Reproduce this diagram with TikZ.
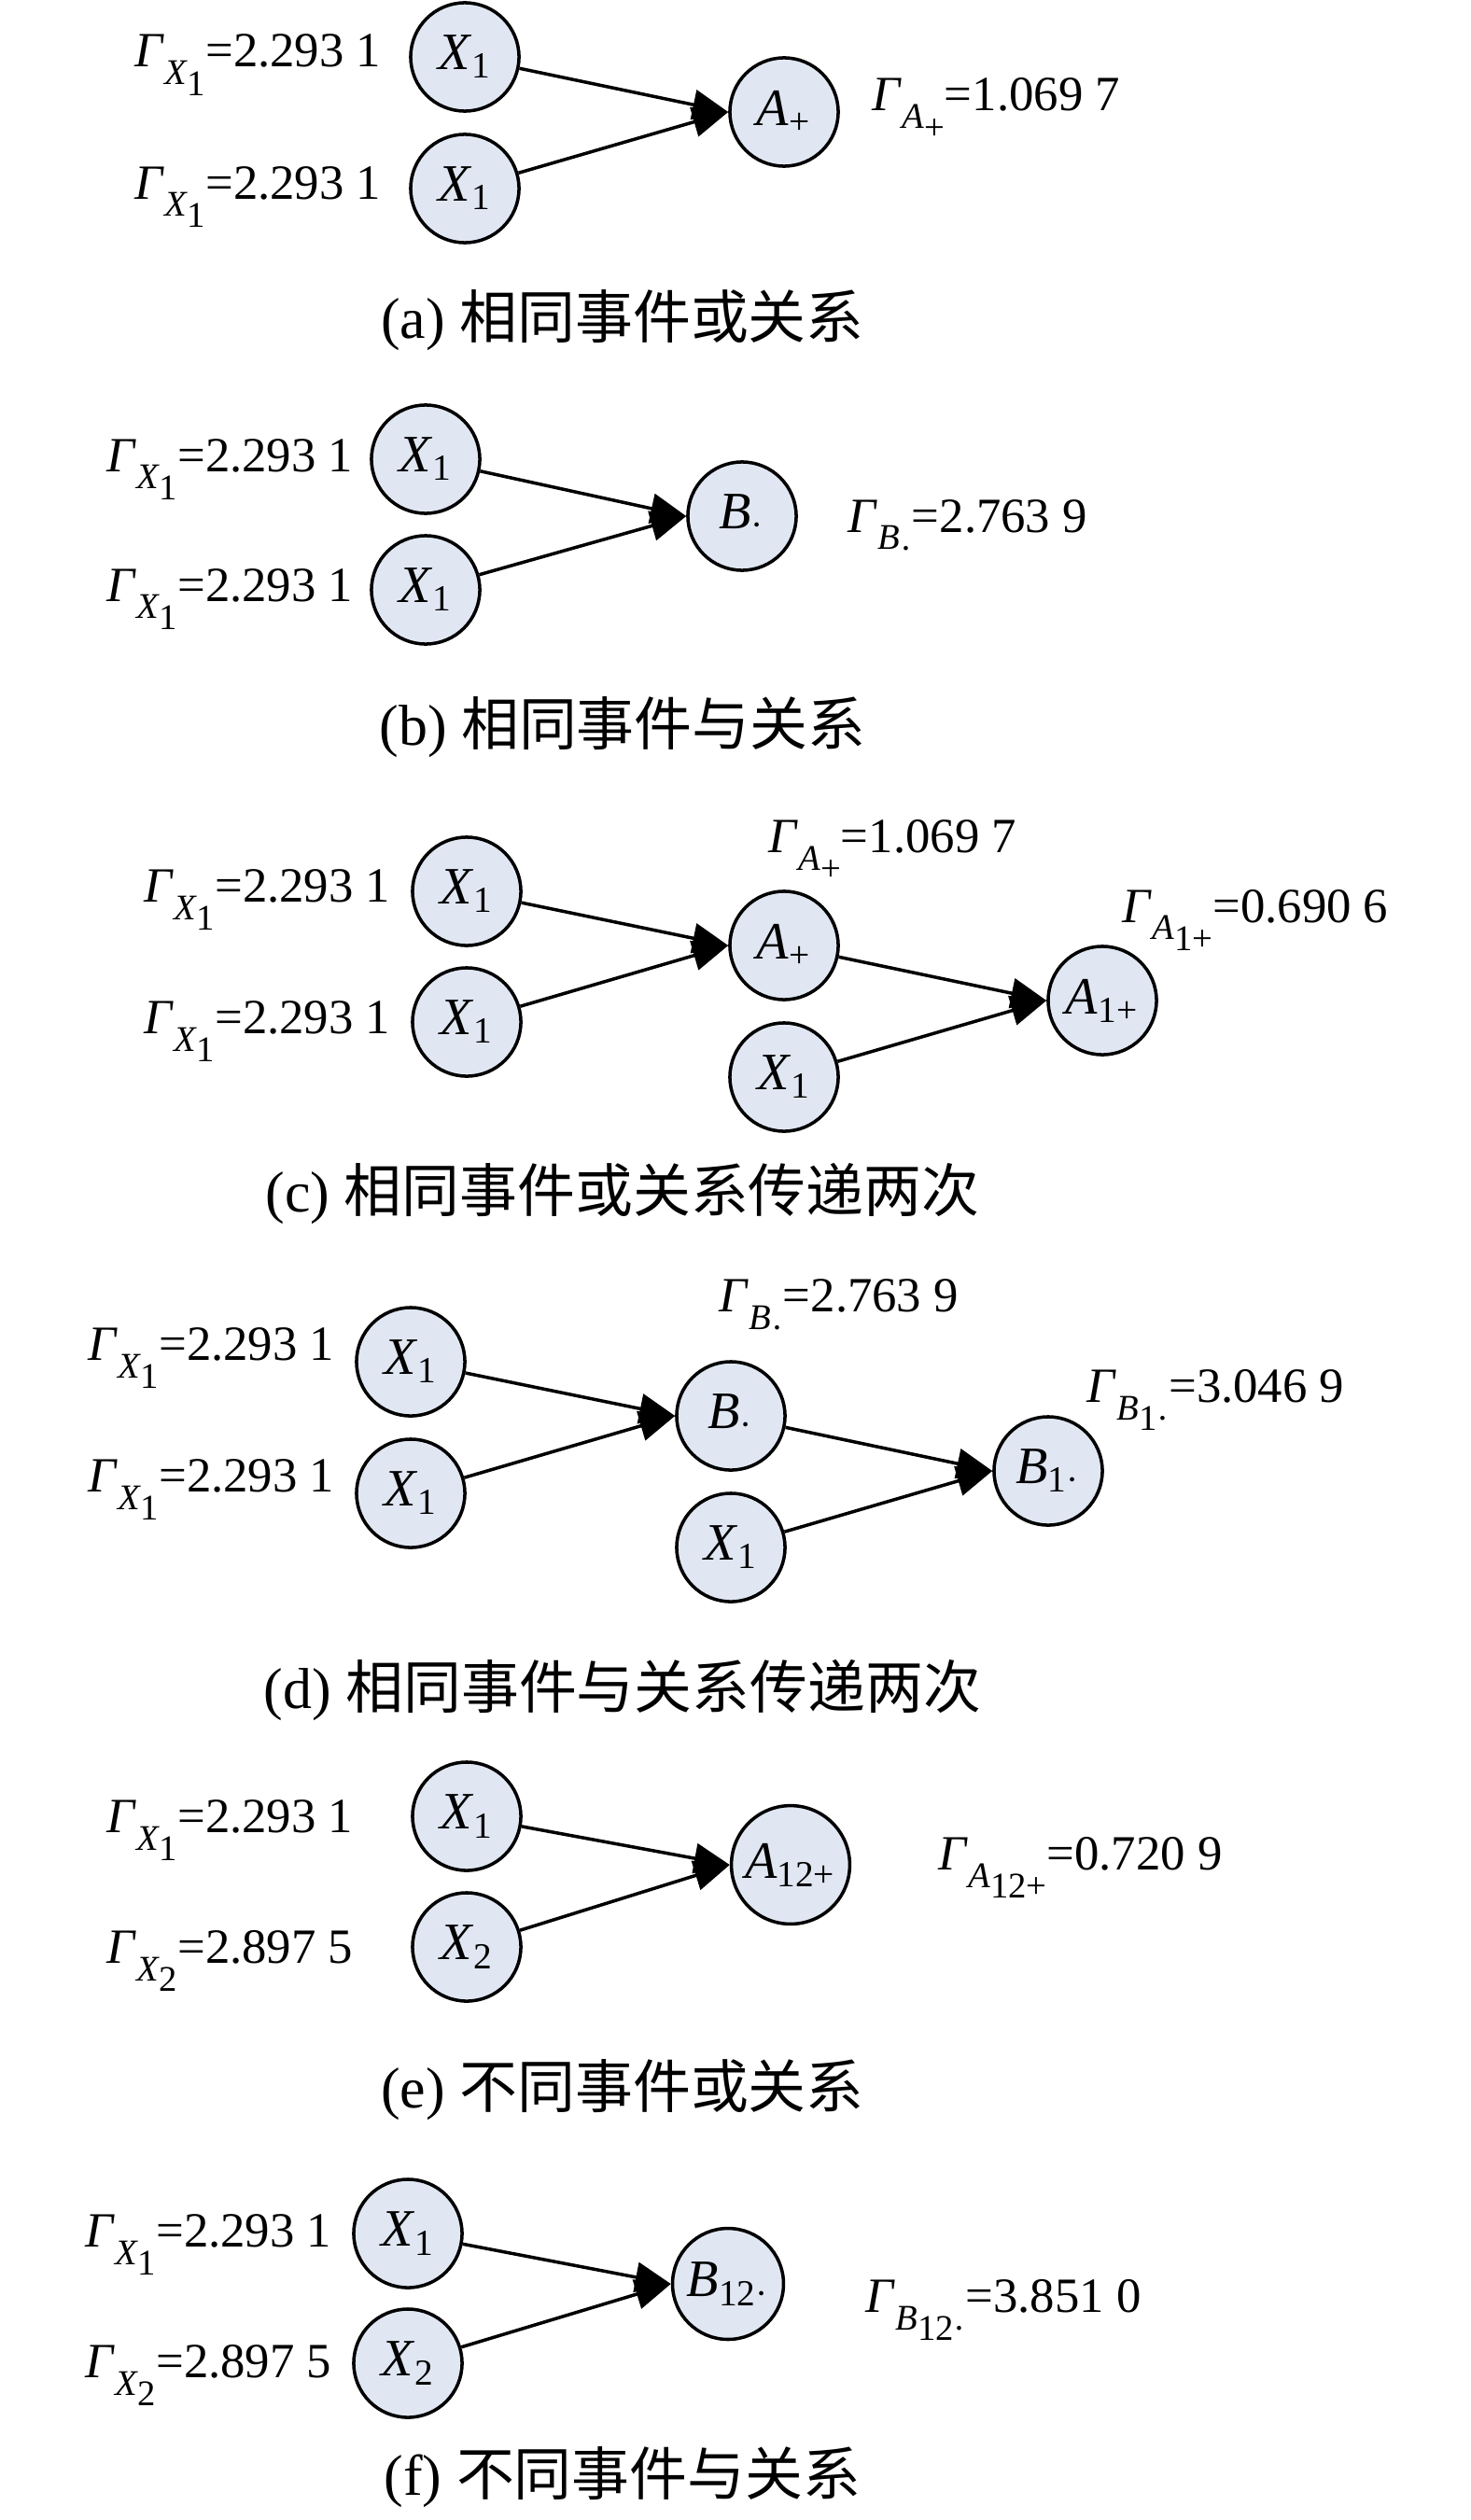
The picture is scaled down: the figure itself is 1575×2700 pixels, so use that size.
\documentclass[tikz,border=0pt]{standalone}
\usepackage{fontspec}
\setmainfont{Liberation Serif}
\newfontfamily\cjk{Noto Sans CJK SC}
\usetikzlibrary{arrows.meta}
\definecolor{evfill}{RGB}{224,231,243}
% lowered two-level subscript of the Gamma labels
\newcommand{\gsub}[2]{\raisebox{-0.36em}{\fontsize{11}{13}\selectfont\textit{#1}\raisebox{-0.3em}{#2}}}

\begin{document}
\begin{tikzpicture}[x=0.01cm,y=-0.01cm,
    event/.style={draw,circle,line width=1pt,fill=evfill,minimum size=1.16cm,inner sep=2pt,font=\fontsize{16}{19}\selectfont},
    gam/.style={inner sep=0pt,font=\fontsize{15}{18}\selectfont},
    subcap/.style={inner sep=0pt,anchor=base,font=\fontsize{17.6}{21}\selectfont},
    link/.style={->,line width=1pt,>={Triangle[length=3.8mm,width=3.2mm]}}]
  \useasboundingbox (0,0) rectangle (1575,2700);

  % (a)
  \node[event] at (498,61) (a-x1) {\textit{X}\textsubscript{1}};
  \node[event] at (498,202) (a-x2) {\textit{X}\textsubscript{1}};
  \node[event] at (840,120) (a-y) {\textit{A}\textsubscript{+}};
  \node[gam,anchor=base east] at (409,72) (a-g1) {\textit{Γ}\gsub{X}{1}=2.293 1};
  \node[gam,anchor=base east] at (409,213) (a-g2) {\textit{Γ}\gsub{X}{1}=2.293 1};
  \node[gam,anchor=base west] at (934,119) (a-gy) {\textit{Γ}\gsub{A}{+}=1.069 7};
  \draw[link] (a-x1) -- (a-y.west); \draw[link] (a-x2) -- (a-y.west);
  \node[subcap] at (667,362) (a-cap) {(a) {\cjk 相同事件或关系}};

  % (b)
  \node[event] at (456,492) (b-x1) {\textit{X}\textsubscript{1}};
  \node[event] at (456,632) (b-x2) {\textit{X}\textsubscript{1}};
  \node[event] at (795,553) (b-y) {\textit{B}\textsubscript{·}};
  \node[gam,anchor=base east] at (379,505) (b-g1) {\textit{Γ}\gsub{X}{1}=2.293 1};
  \node[gam,anchor=base east] at (379,644) (b-g2) {\textit{Γ}\gsub{X}{1}=2.293 1};
  \node[gam,anchor=base west] at (908,570) (b-gy) {\textit{Γ}\gsub{B}{·}=2.763 9};
  \draw[link] (b-x1) -- (b-y.west); \draw[link] (b-x2) -- (b-y.west);
  \node[subcap] at (667,798) (b-cap) {(b) {\cjk 相同事件与关系}};

  % (c)
  \node[event] at (500,955) (c-x1) {\textit{X}\textsubscript{1}};
  \node[event] at (500,1095) (c-x2) {\textit{X}\textsubscript{1}};
  \node[event] at (840,1013) (c-y1) {\textit{A}\textsubscript{+}};
  \node[event] at (840,1154) (c-x3) {\textit{X}\textsubscript{1}};
  \node[event] at (1181,1072) (c-y2) {\textit{A}\textsubscript{1+}};
  \node[gam,anchor=base east] at (419,966) (c-g1) {\textit{Γ}\gsub{X}{1}=2.293 1};
  \node[gam,anchor=base east] at (419,1107) (c-g2) {\textit{Γ}\gsub{X}{1}=2.293 1};
  \node[gam,anchor=base west] at (823,913) (c-gy1) {\textit{Γ}\gsub{A}{+}=1.069 7};
  \node[gam,anchor=base west] at (1202,988) (c-gy2) {\textit{Γ}\gsub{A}{1+}=0.690 6};
  \draw[link] (c-x1) -- (c-y1.west); \draw[link] (c-x2) -- (c-y1.west);
  \draw[link] (c-y1) -- (c-y2.west); \draw[link] (c-x3) -- (c-y2.west);
  \node[subcap] at (667,1298) (c-cap) {(c) {\cjk 相同事件或关系传递两次}};

  % (d)
  \node[event] at (440,1459) (d-x1) {\textit{X}\textsubscript{1}};
  \node[event] at (440,1600) (d-x2) {\textit{X}\textsubscript{1}};
  \node[event] at (783,1517) (d-y1) {\textit{B}\textsubscript{·}};
  \node[event] at (783,1658) (d-x3) {\textit{X}\textsubscript{1}};
  \node[event] at (1123,1576) (d-y2) {\textit{B}\textsubscript{1·}};
  \node[gam,anchor=base east] at (359,1457) (d-g1) {\textit{Γ}\gsub{X}{1}=2.293 1};
  \node[gam,anchor=base east] at (359,1598) (d-g2) {\textit{Γ}\gsub{X}{1}=2.293 1};
  \node[gam,anchor=base west] at (770,1405) (d-gy1) {\textit{Γ}\gsub{B}{·}=2.763 9};
  \node[gam,anchor=base west] at (1164,1502) (d-gy2) {\textit{Γ}\gsub{B}{1·}=3.046 9};
  \draw[link] (d-x1) -- (d-y1.west); \draw[link] (d-x2) -- (d-y1.west);
  \draw[link] (d-y1) -- (d-y2.west); \draw[link] (d-x3) -- (d-y2.west);
  \node[subcap] at (667,1830) (d-cap) {(d) {\cjk 相同事件与关系传递两次}};

  % (e)
  \node[event] at (500,1946) (e-x1) {\textit{X}\textsubscript{1}};
  \node[event] at (500,2086) (e-x2) {\textit{X}\textsubscript{2}};
  \node[event] at (847,1998) (e-y) {\textit{A}\textsubscript{12+}};
  \node[gam,anchor=base east] at (379,1963) (e-g1) {\textit{Γ}\gsub{X}{1}=2.293 1};
  \node[gam,anchor=base east] at (379,2103) (e-g2) {\textit{Γ}\gsub{X}{2}=2.897 5};
  \node[gam,anchor=base west] at (1005,2003) (e-gy) {\textit{Γ}\gsub{A}{12+}=0.720 9};
  \draw[link] (e-x1) -- (e-y.west); \draw[link] (e-x2) -- (e-y.west);
  \node[subcap] at (667,2258) (e-cap) {(e) {\cjk 不同事件或关系}};

  % (f)
  \node[event] at (437,2393) (f-x1) {\textit{X}\textsubscript{1}};
  \node[event] at (437,2532) (f-x2) {\textit{X}\textsubscript{2}};
  \node[event] at (780,2447) (f-y) {\textit{B}\textsubscript{12·}};
  \node[gam,anchor=base east] at (356,2407) (f-g1) {\textit{Γ}\gsub{X}{1}=2.293 1};
  \node[gam,anchor=base east] at (356,2547) (f-g2) {\textit{Γ}\gsub{X}{2}=2.897 5};
  \node[gam,anchor=base west] at (927,2477) (f-gy) {\textit{Γ}\gsub{B}{12·}=3.851 0};
  \draw[link] (f-x1) -- (f-y.west); \draw[link] (f-x2) -- (f-y.west);
  \node[subcap] at (667,2673) (f-cap) {(f) {\cjk 不同事件与关系}};

\end{tikzpicture}
\end{document}
